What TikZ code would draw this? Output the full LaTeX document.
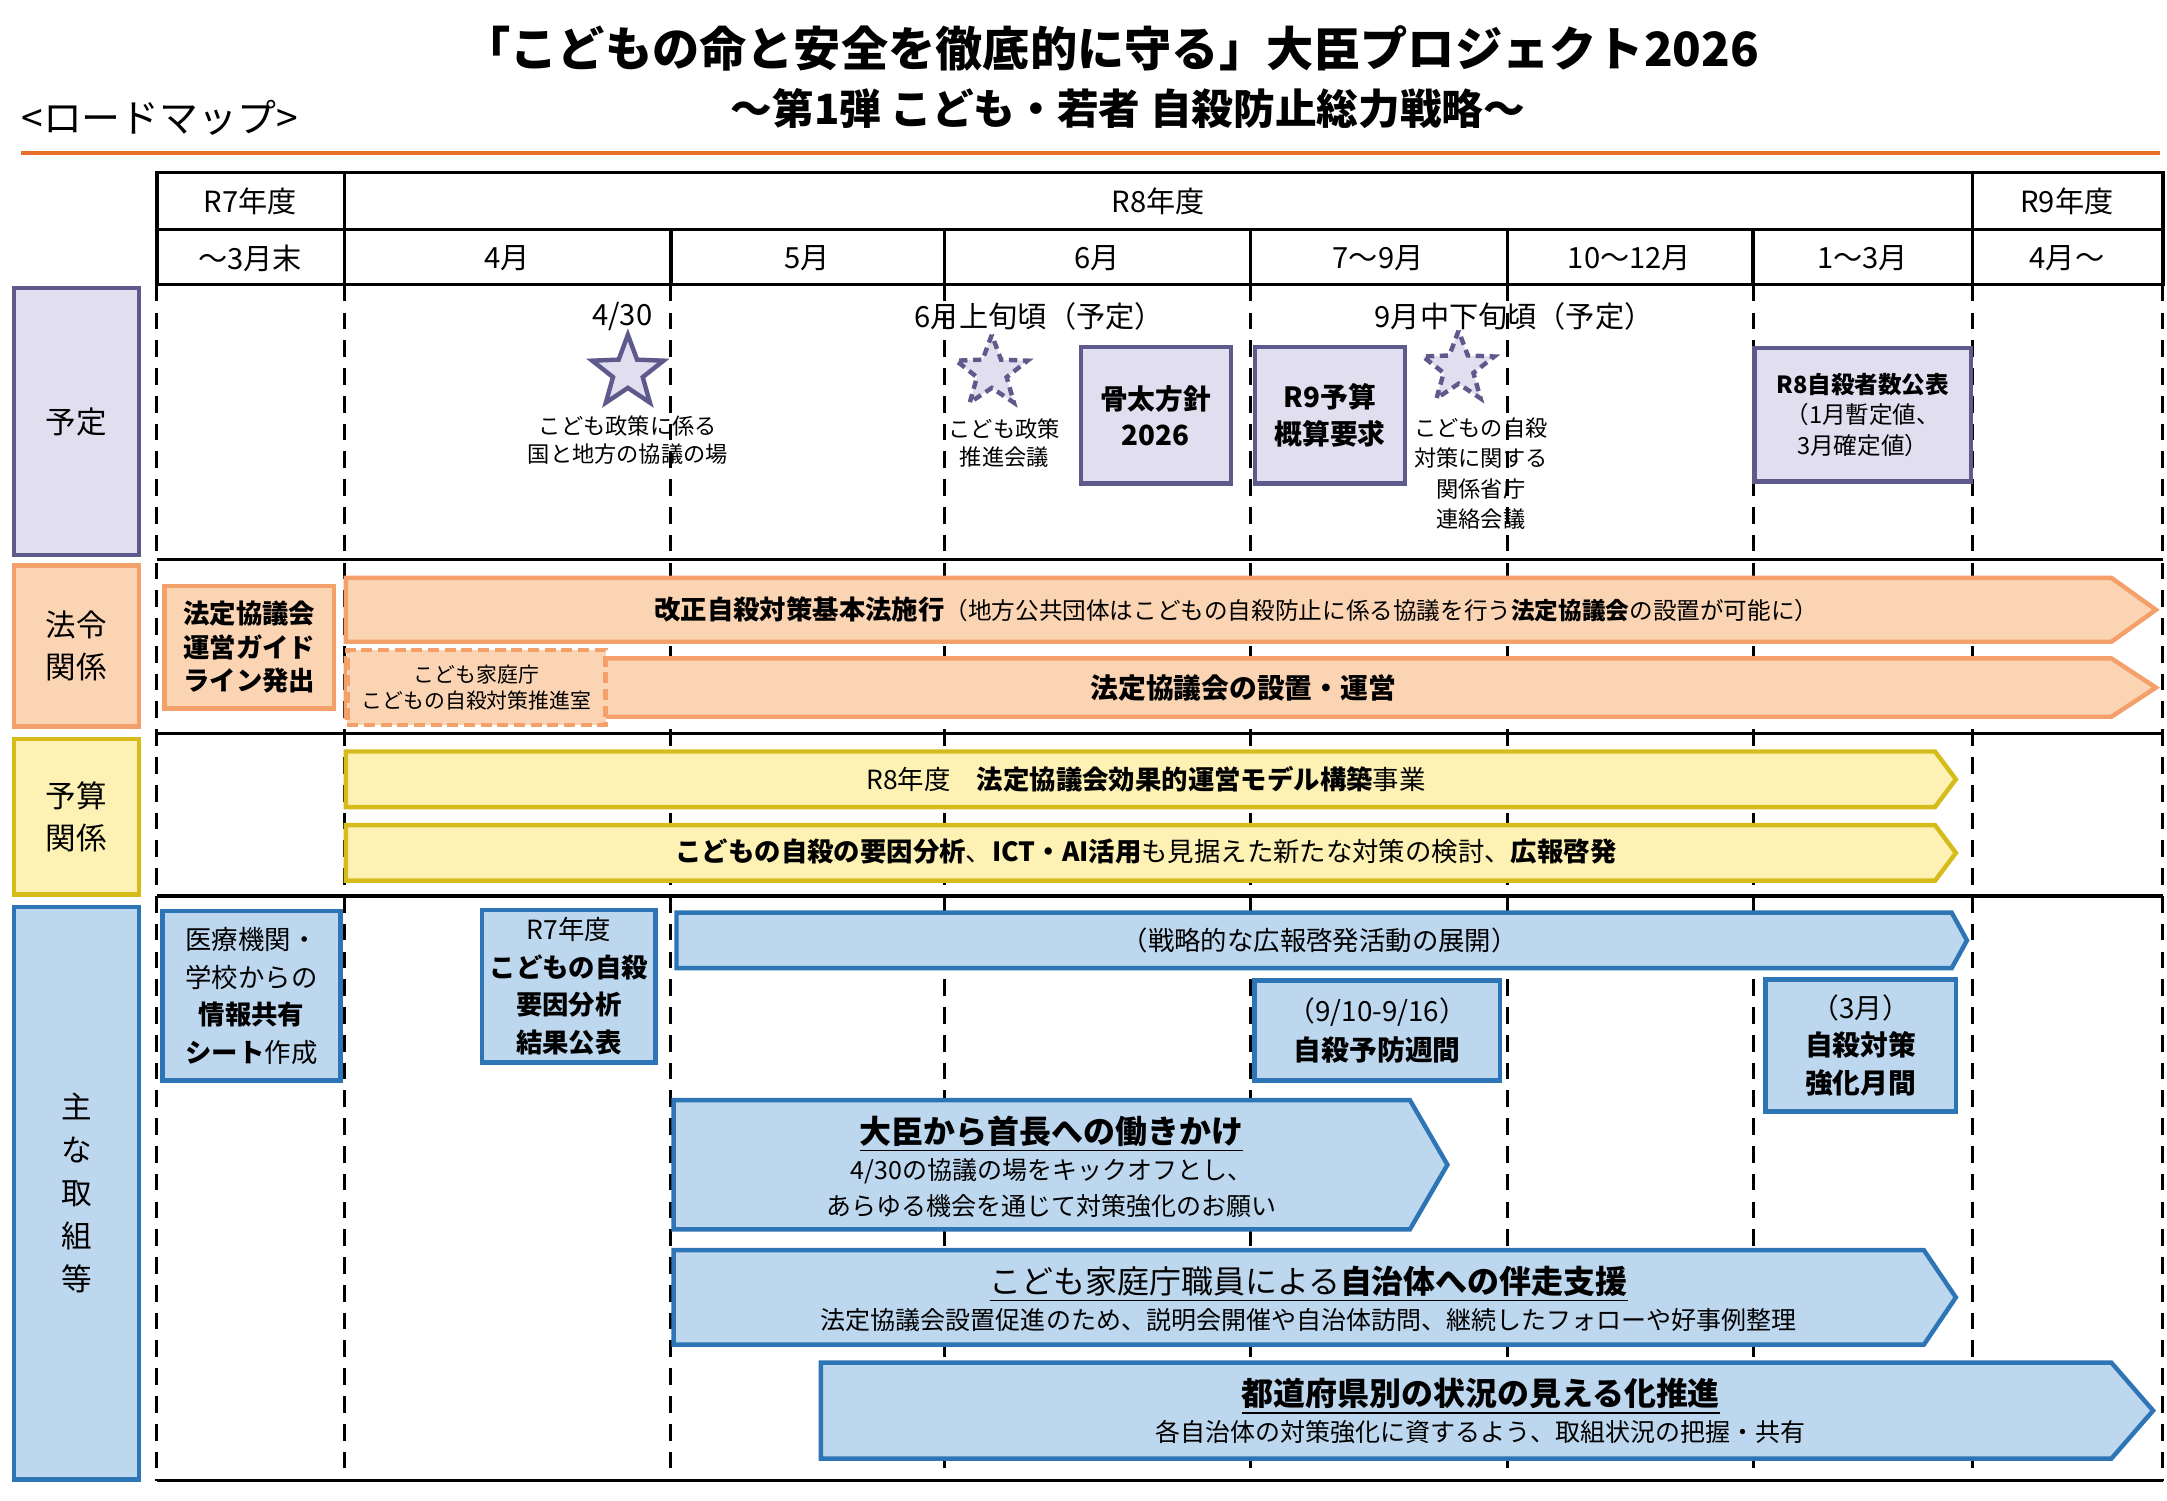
\documentclass[tikz,border=0pt]{standalone}
\usepackage{fontspec}
\setmainfont{Noto Sans CJK JP}
\usetikzlibrary{shapes.geometric}
\definecolor{pF}{HTML}{E1DFEF}\definecolor{pD}{HTML}{5F5A8C}
\definecolor{oF}{HTML}{FBD4B4}\definecolor{oD}{HTML}{F4A06A}
\definecolor{yF}{HTML}{FDF2B4}\definecolor{yD}{HTML}{D6BC1A}
\definecolor{bF}{HTML}{BDD7EE}\definecolor{bD}{HTML}{2E75B6}
\definecolor{rl}{HTML}{E8702A}
\newcommand{\harr}[6]{\path[#6] (#1,#2) -- (#5,#2) -- (#3,{(#2+#4)/2}) -- (#5,#4) -- (#1,#4) -- cycle;}
\begin{document}
\begin{tikzpicture}[x=0.5pt,y=-0.5pt,
  t/.style={font=\fontsize{9.5}{11}\selectfont,align=center,inner sep=0pt},
  s/.style={font=\fontsize{8}{10}\selectfont,align=center,inner sep=0pt},
  hd/.style={font=\fontsize{10.5}{12}\selectfont,inner sep=0pt},
  pbox/.style={draw=pD,fill=pF,line width=1.6pt},
  obox/.style={draw=oD,fill=oF,line width=1.6pt},
  ybox/.style={draw=yD,fill=yF,line width=1.6pt},
  bbox/.style={draw=bD,fill=bF,line width=1.6pt},
  dl/.style={line width=1.1pt,dash pattern=on 6pt off 4pt},
  st/.style={star,star points=5,star point ratio=2.4,minimum size=27pt,draw=pD,fill=pF,line width=1.6pt,inner sep=0pt}]
\useasboundingbox (0,0) rectangle (1560,1080);
% title
\node[font=\bfseries\fontsize{17}{20}\selectfont,inner sep=0pt] (title1) at (800,35) {「こどもの命と安全を徹底的に守る」大臣プロジェクト2026};
\node[font=\bfseries\fontsize{15}{18}\selectfont,inner sep=0pt] (title2) at (812,78) {～第1弾 こども・若者 自殺防止総力戦略～};
\node[font=\fontsize{14}{16}\selectfont,inner sep=0pt] (rm) at (115,85) {<ロードマップ>};
\draw[rl,line width=1.6pt] (15,110) -- (1555,110);
% header
\draw[line width=1.2pt] (113,124) rectangle (1557,205);
\draw[line width=1.2pt] (113,165) -- (1557,165);
\foreach \x in {248,1420} \draw[line width=1.2pt] (\x,124) -- (\x,205);
\foreach \x in {483,680,900,1085,1262} \draw[line width=1.2pt] (\x,165) -- (\x,205);
\node[hd] (h1) at (180,145) {R7年度};
\node[hd] (h2) at (834,145) {R8年度};
\node[hd] (h3) at (1488,145) {R9年度};
\node[hd] (m0) at (180,186) {～3月末};
\node[hd] (m1) at (365,186) {4月};
\node[hd] (m2) at (581,186) {5月};
\node[hd] (m3) at (790,186) {6月};
\node[hd] (m4) at (992,186) {7～9月};
\node[hd] (m5) at (1173,186) {10～12月};
\node[hd] (m6) at (1341,186) {1～3月};
\node[hd] (m7) at (1488,186) {4月～};
% grid
\foreach \x in {113,248,483,680,900,1085,1262,1420,1557} \draw[dl] (\x,205) -- (\x,1066);
\foreach \y in {403,528,645} \draw[line width=1.2pt] (113,\y) -- (1557,\y);
\draw[line width=1.2pt] (113,1066) -- (1557,1066);
% categories
\node[pbox,minimum width=45pt,minimum height=96pt,font=\fontsize{11}{13}\selectfont] (c1) at (55,303.5) {予定};
\node[obox,minimum width=45pt,minimum height=58pt,font=\fontsize{11}{15}\selectfont,align=center] (c2) at (55,465) {法令\\関係};
\node[ybox,minimum width=45pt,minimum height=56pt,font=\fontsize{11}{15}\selectfont,align=center] (c3) at (55,588) {予算\\関係};
\node[bbox,minimum width=45pt,minimum height=206pt,font=\fontsize{11}{15.5}\selectfont,align=center] (c4) at (55,859) {主\\な\\取\\組\\等};
% 予定 row
\node[hd] (d1) at (448,228) {4/30};
\node[st] (s1) at (452,268) {};
\node[s] (s1t) at (452,317) {こども政策に係る\\国と地方の協議の場};
\node[hd] (d2) at (748,228) {6月上旬頃（予定）};
\node[st,dash pattern=on 3pt off 2pt] (s2) at (714,268) {};
\node[s] (s2t) at (723,319) {こども政策\\推進会議};
\node[pbox,minimum width=54pt,minimum height=49pt,t,font=\bfseries\fontsize{10}{13}\selectfont] (b1) at (832,299) {骨太方針\\2026};
\node[pbox,minimum width=54pt,minimum height=49pt,t,font=\bfseries\fontsize{10}{13}\selectfont] (b2) at (957.5,299) {R9予算\\概算要求};
\node[hd] (d3) at (1090,228) {9月中下旬頃（予定）};
\node[st,dash pattern=on 3pt off 2pt] (s3) at (1050,265) {};
\node[s,font=\fontsize{8}{11}\selectfont] (s3t) at (1066,341) {こどもの自殺\\対策に関する\\関係省庁\\連絡会議};
\node[pbox,minimum width=78pt,minimum height=48pt,t] (b3) at (1341,298.5) {\textbf{\fontsize{8.5}{11}\selectfont R8自殺者数公表}\\{\fontsize{8.5}{11}\selectfont（1月暫定値、}\\{\fontsize{8.5}{11}\selectfont 3月確定値）}};
% 法令 row
\node[obox,minimum width=61pt,minimum height=44pt,t,font=\bfseries\fontsize{9.5}{12}\selectfont] (g1) at (179.5,466) {法定協議会\\運営ガイド\\ライン発出};
\harr{249}{416}{1552}{462}{1520}{obox}
\node[t] (l1) at (890,439) {\textbf{改正自殺対策基本法施行}{\fontsize{8.5}{10}\selectfont（地方公共団体はこどもの自殺防止に係る協議を行う\textbf{法定協議会}の設置が可能に）}};
\harr{249}{474}{1552}{516}{1520}{obox}
\node[t,font=\bfseries\fontsize{10}{12}\selectfont] (l2) at (895,495) {法定協議会の設置・運営};
\node[obox,dash pattern=on 4pt off 2pt,minimum width=93pt,minimum height=27pt,s,font=\fontsize{7.5}{9.5}\selectfont] (g2) at (343,495) {こども家庭庁\\こどもの自殺対策推進室};
% 予算 row
\harr{249}{541}{1408}{581}{1393}{ybox}
\node[t] (y1) at (825,561) {R8年度\quad\textbf{法定協議会効果的運営モデル構築}事業};
\harr{249}{594}{1408}{634}{1393}{ybox}
\node[t] (y2) at (825,613) {\textbf{こどもの自殺の要因分析}、\textbf{ICT・AI活用}も見据えた新たな対策の検討、\textbf{広報啓発}};
% 主な取組 row
\node[bbox,minimum width=64pt,minimum height=61pt,t,font=\fontsize{9.5}{13.5}\selectfont] (k1) at (181,717) {医療機関・\\学校からの\\\textbf{情報共有}\\\textbf{シート}作成};
\node[bbox,minimum width=62.5pt,minimum height=55pt,t,font=\fontsize{9.5}{13.5}\selectfont] (k2) at (409.5,710) {R7年度\\\textbf{こどもの自殺}\\\textbf{要因分析}\\\textbf{結果公表}};
\harr{487}{657}{1416}{697}{1405}{bbox}
\node[t] (k3) at (950,677) {（戦略的な広報啓発活動の展開）};
\node[bbox,minimum width=88.5pt,minimum height=36pt,t,font=\fontsize{10}{14}\selectfont] (k4) at (991.5,742) {（9/10-9/16）\\\textbf{自殺予防週間}};
\node[bbox,minimum width=68.5pt,minimum height=47.5pt,t,font=\fontsize{10}{13.5}\selectfont] (k5) at (1339.5,752.5) {（3月）\\\textbf{自殺対策}\\\textbf{強化月間}};
\harr{485}{792}{1042}{885}{1015}{bbox}
\node[t,font=\fontsize{9}{13}\selectfont] (k6) at (757,840) {{\bfseries\fontsize{11.5}{14}\selectfont\underline{大臣から首長への働きかけ}}\\4/30の協議の場をキックオフとし、\\あらゆる機会を通じて対策強化のお願い};
\harr{485}{900}{1408}{968}{1385}{bbox}
\node[t,font=\fontsize{9}{13}\selectfont] (k7) at (942,935) {{\fontsize{11.5}{14}\selectfont\underline{こども家庭庁職員による\textbf{自治体への伴走支援}}}\\法定協議会設置促進のため、説明会開催や自治体訪問、継続したフォローや好事例整理};
\harr{591}{981}{1550}{1050}{1520}{bbox}
\node[t,font=\fontsize{9}{13}\selectfont] (k8) at (1066,1016) {{\bfseries\fontsize{11.5}{14}\selectfont\underline{都道府県別の状況の見える化推進}}\\各自治体の対策強化に資するよう、取組状況の把握・共有};
\end{tikzpicture}
\end{document}
